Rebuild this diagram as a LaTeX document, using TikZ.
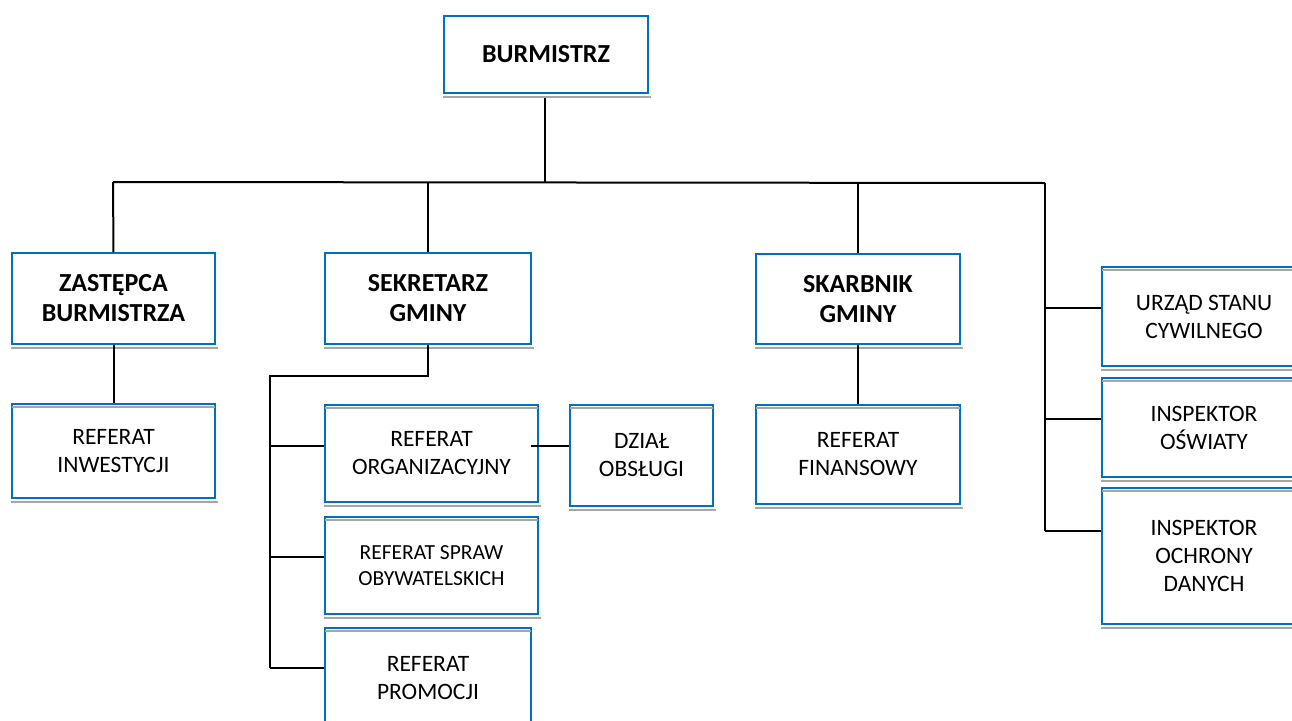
\documentclass[tikz,border=0pt]{standalone}
\usepackage{fontspec}
\setmainfont{Carlito}
\definecolor{bxblue}{HTML}{0070C0}
\definecolor{shgray}{HTML}{A6A6A6}
\tikzset{
  x=1pt,y=-1pt,
  box/.style={draw=bxblue,line width=2pt,fill=white,anchor=north west,align=center,inner sep=0pt},
  headbox/.style={box,font=\fontsize{26}{30}\selectfont\bfseries},
  subbox/.style={box,font=\fontsize{23.5}{28}\selectfont},
  smallbox/.style={box,font=\fontsize{21.5}{26}\selectfont},
  conn/.style={draw=black,line width=2pt},
  conn2/.style={draw=black,line width=1.6pt},
  shadowline/.style={draw=shgray,line width=2pt},
}
\begin{document}
\begin{tikzpicture}
\useasboundingbox (0,0) rectangle (1292,720);
\clip (0,0) rectangle (1292,720);
% head nodes
\node[headbox,minimum width=204pt,minimum height=77pt] (burm) at (443,15) {BURMISTRZ};
\node[headbox,minimum width=203pt,minimum height=91pt] (zast) at (11,252) {ZASTĘPCA\\BURMISTRZA};
\node[headbox,minimum width=206pt,minimum height=91pt] (sekr) at (324,252) {SEKRETARZ\\GMINY};
\node[headbox,minimum width=204pt,minimum height=90pt] (skarb) at (755,253) {SKARBNIK\\GMINY};
% sub nodes
\node[subbox,minimum width=203pt,minimum height=94pt] (inw) at (11,403) {REFERAT\\INWESTYCJI};
\node[subbox,minimum width=213pt,minimum height=97pt] (org) at (324,404) {REFERAT\\ORGANIZACYJNY};
\node[subbox,minimum width=143pt,minimum height=101pt] (dzial) at (569,404) {DZIAŁ\\OBSŁUGI};
\node[smallbox,minimum width=213pt,minimum height=97pt] (spraw) at (324,516) {REFERAT SPRAW\\OBYWATELSKICH};
\node[subbox,minimum width=206pt,minimum height=100pt] (prom) at (324,627) {REFERAT\\PROMOCJI};
\node[subbox,minimum width=204pt,minimum height=99pt] (fin) at (755,404) {REFERAT\\FINANSOWY};
\node[subbox,minimum width=204pt,minimum height=99pt] (usc) at (1101,266) {URZĄD STANU\\CYWILNEGO};
\node[subbox,minimum width=204pt,minimum height=99pt] (osw) at (1101,377) {INSPEKTOR\\OŚWIATY};
\node[subbox,minimum width=204pt,minimum height=136pt] (ochr) at (1101,487) {INSPEKTOR\\OCHRONY\\DANYCH};
% shadow lines
\foreach \n in {burm,zast,sekr,skarb,inw,org,dzial,spraw,prom,fin,usc,osw,ochr}{
  \draw[shadowline] ([yshift=-3pt]\n.south west) -- ([yshift=-3pt,xshift=2pt]\n.south east);
}
\foreach \n in {inw,org,dzial,spraw,prom,fin,usc,osw,ochr}{
  \draw[shadowline] ([yshift=-3.5pt,xshift=1pt]\n.north west) -- ([yshift=-3.5pt,xshift=-1pt]\n.north east);
}
% main connectors
\coordinate (hL) at (113,182);
\coordinate (hR) at (1045,183);
\coordinate (bt) at (545,98);
\draw[conn] (bt) -- (bt |- hL);
\draw[conn] (hL) -- (hR);
\draw[conn] (hL) -- (zast.north);
\draw[conn] (sekr.north |- hL) -- (sekr.north);
\draw[conn] (skarb.north |- hL) -- (skarb.north);
\draw[conn] (zast.south) -- (inw.north);
\draw[conn] (skarb.south) -- (fin.north);
% right column
\coordinate (r1) at (1045,308);
\coordinate (r2) at (1045,419);
\coordinate (r3) at (1045,531);
\draw[conn2] (hR) -- (r3);
\draw[conn2] (r1) -- (r1 -| usc.west);
\draw[conn2] (r2) -- (r2 -| osw.west);
\draw[conn2] (r3) -- (r3 -| ochr.west);
% sekretarz branch
\coordinate (s1) at (427,376);
\coordinate (s2) at (270,376);
\coordinate (b1) at (270,446);
\coordinate (b2) at (270,557);
\coordinate (b3) at (270,668);
\draw[conn2] (sekr.south) -- (sekr.south |- s1) -- (s2) -- (b3);
\draw[conn2] (b1) -- (b1 -| org.west);
\draw[conn2] (b2) -- (b2 -| spraw.west);
\draw[conn2] (b3) -- (b3 -| prom.west);
\draw[conn2] ([xshift=-8pt]org.east |- b1) -- (b1 -| dzial.west);
\end{tikzpicture}
\end{document}
